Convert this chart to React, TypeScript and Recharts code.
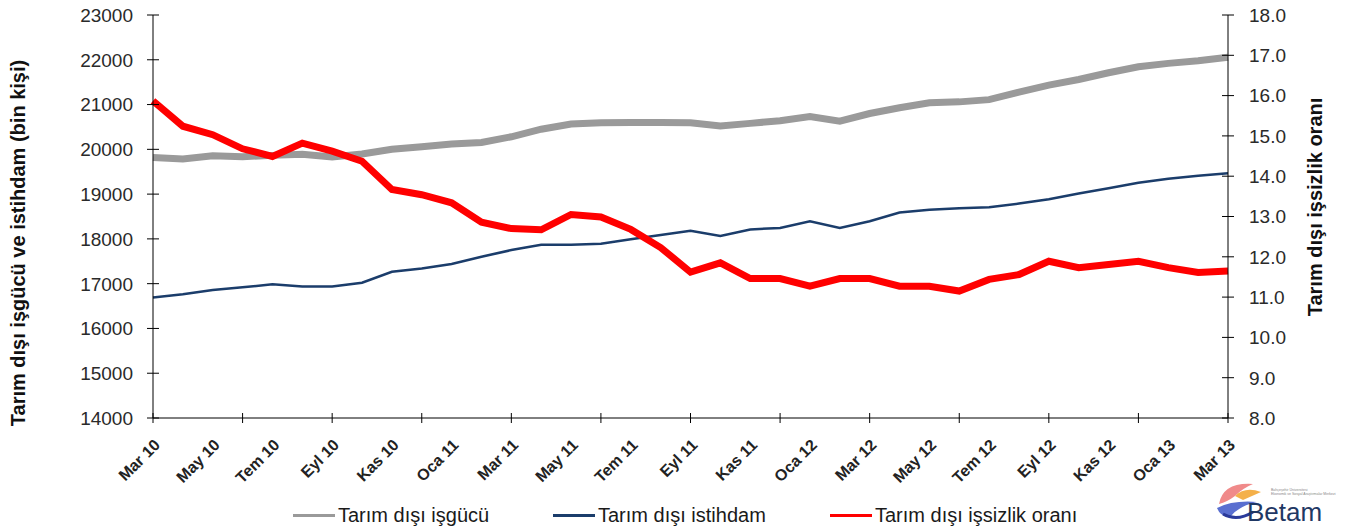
import { LineChart, Line, XAxis, YAxis } from "recharts";

const months = [
  "Mar 10", "Nis 10", "May 10", "Haz 10", "Tem 10", "Ağu 10", "Eyl 10", "Eki 10", "Kas 10", "Ara 10",
  "Oca 11", "Şub 11", "Mar 11", "Nis 11", "May 11", "Haz 11", "Tem 11", "Ağu 11", "Eyl 11", "Eki 11",
  "Kas 11", "Ara 11", "Oca 12", "Şub 12", "Mar 12", "Nis 12", "May 12", "Haz 12", "Tem 12", "Ağu 12",
  "Eyl 12", "Eki 12", "Kas 12", "Ara 12", "Oca 13", "Şub 13", "Mar 13",
];

// bin kişi
const isgucu = [
  19820, 19785, 19855, 19835, 19865, 19890, 19830, 19895, 20000, 20060,
  20120, 20155, 20280, 20450, 20565, 20595, 20600, 20600, 20595, 20520,
  20580, 20640, 20730, 20630, 20800, 20930, 21040, 21060, 21110, 21280,
  21435, 21560, 21710, 21845, 21920, 21980, 22055,
];

const istihdam = [
  16690, 16765, 16860, 16920, 16985, 16935, 16935, 17020, 17265, 17340,
  17440, 17600, 17750, 17870, 17870, 17890, 17990, 18085, 18180, 18065,
  18210, 18245, 18395, 18245, 18395, 18590, 18650, 18685, 18705, 18790,
  18885, 19015, 19130, 19255, 19345, 19410, 19465,
];

// %
const issizlik = [
  15.87, 15.24, 15.03, 14.68, 14.49, 14.82, 14.62, 14.37, 13.67, 13.54,
  13.34, 12.86, 12.7, 12.67, 13.05, 12.99, 12.68, 12.23, 11.62, 11.85,
  11.46, 11.46, 11.27, 11.46, 11.46, 11.27, 11.27, 11.15, 11.44, 11.56,
  11.89, 11.73, 11.81, 11.89, 11.73, 11.61, 11.65,
];

const leftTicks = [14000, 15000, 16000, 17000, 18000, 19000, 20000, 21000, 22000, 23000];
const rightTicks = [8, 9, 10, 11, 12, 13, 14, 15, 16, 17, 18];

const data = months.map((m, i) => ({
  m,
  isgucu: isgucu[i],
  istihdam: istihdam[i],
  issizlik: issizlik[i],
}));

const GRAY = "#9a9a9a";
const NAVY = "#1b3d6b";
const RED = "#ff0000";
const FONT = "'Liberation Sans', Arial, sans-serif";

// labels every 2 months, tick marks every 3 months
const MonthTick = (props: any) => {
  const { x, y, payload } = props;
  const i = months.indexOf(payload.value);
  const axisY = y - 8;
  return (
    <g>
      {i % 3 === 0 && (
        <line x1={x} x2={x} y1={axisY - 5} y2={axisY + 5} stroke="#000" />
      )}
      {i % 2 === 0 && (
        <text
          x={x + 8}
          y={y + 20}
          transform={`rotate(-45, ${x + 8}, ${y + 20})`}
          textAnchor="end"
          fontFamily={FONT}
          fontWeight="bold"
          fontSize={16}
          fill="#222"
        >
          {payload.value}
        </text>
      )}
    </g>
  );
};

const LeftTick = (props: any) => {
  const { x, y, payload } = props;
  const ax = x + 20;
  return (
    <g>
      <line x1={ax - 6} x2={ax + 6} y1={y} y2={y} stroke="#000" />
      <text x={x} y={y} dy="0.36em" textAnchor="end" fontFamily={FONT} fontSize={19} fill="#2a2a2a">
        {payload.value}
      </text>
    </g>
  );
};

const RightTick = (props: any) => {
  const { x, y, payload } = props;
  const ax = x - 21;
  return (
    <g>
      <line x1={ax - 6} x2={ax + 6} y1={y} y2={y} stroke="#000" />
      <text x={x} y={y} dy="0.36em" textAnchor="start" fontFamily={FONT} fontSize={19} fill="#2a2a2a">
        {Number(payload.value).toFixed(1)}
      </text>
    </g>
  );
};

const legendItems = [
  { name: "Tarım dışı işgücü", color: GRAY, left: 293 },
  { name: "Tarım dışı istihdam", color: NAVY, left: 553 },
  { name: "Tarım dışı işsizlik oranı", color: RED, left: 830 },
];

const titleStyle: React.CSSProperties = {
  position: "absolute",
  transform: "translate(-50%, -50%) rotate(-90deg)",
  whiteSpace: "nowrap",
  fontFamily: FONT,
  fontWeight: "bold",
  fontSize: 20,
  color: "#111",
};

function Logo() {
  return (
    <svg
      width={151}
      height={56}
      style={{ position: "absolute", left: 1213, top: 472 }}
    >
      <path d="M6 32 Q10 10 40 12 Q30 16 22 24 Q14 30 6 32 Z" fill="#f08a8a" />
      <path d="M22 24 Q32 14 48 20 L30 28 Z" fill="#f4b04a" />
      <path d="M4 36 Q20 28 44 30 Q26 34 18 44 Q8 46 4 36 Z" fill="#5a6fd0" />
      <path d="M10 42 Q24 50 40 40" stroke="#2a3a9a" strokeWidth={3} fill="none" />
      <text x={58} y={19} fontFamily={FONT} fontSize={3.5} fill="#888">
        Bahçeşehir Üniversitesi
      </text>
      <text x={58} y={23} fontFamily={FONT} fontSize={3.5} fill="#888">
        Ekonomik ve Sosyal Araştırmalar Merkezi
      </text>
      <text x={34} y={49} fontFamily={FONT} fontSize={26} fill="#1f3864">
        Betam
      </text>
    </svg>
  );
}

export default function App() {
  return (
    <div
      style={{
        position: "absolute",
        left: 0,
        top: 0,
        width: 1364,
        height: 530,
        background: "#fff",
        overflow: "hidden",
      }}
    >
      <LineChart
        width={1364}
        height={530}
        data={data}
        margin={{ top: 15, right: 0, bottom: 42, left: 0 }}
      >
        <XAxis
          dataKey="m"
          interval={0}
          height={70}
          tickSize={6}
          tickLine={false}
          axisLine={{ stroke: "#000" }}
          tick={<MonthTick />}
        />
        <YAxis
          yAxisId="left"
          width={153}
          domain={[14000, 23000]}
          ticks={leftTicks}
          tickSize={7}
          tickMargin={13}
          tickLine={false}
          axisLine={{ stroke: "#000" }}
          tick={<LeftTick />}
        />
        <YAxis
          yAxisId="right"
          orientation="right"
          width={136}
          domain={[8, 18]}
          ticks={rightTicks}
          tickSize={7}
          tickMargin={14}
          tickLine={false}
          axisLine={{ stroke: "#000" }}
          tick={<RightTick />}
        />
        <Line
          yAxisId="left"
          dataKey="isgucu"
          name="Tarım dışı işgücü"
          stroke={GRAY}
          strokeWidth={7}
          dot={false}
          type="linear"
          isAnimationActive={false}
        />
        <Line
          yAxisId="left"
          dataKey="istihdam"
          name="Tarım dışı istihdam"
          stroke={NAVY}
          strokeWidth={2.5}
          dot={false}
          type="linear"
          isAnimationActive={false}
        />
        <Line
          yAxisId="right"
          dataKey="issizlik"
          name="Tarım dışı işsizlik oranı"
          stroke={RED}
          strokeWidth={7}
          dot={false}
          type="linear"
          isAnimationActive={false}
        />
      </LineChart>

      <div style={{ ...titleStyle, left: 18, top: 243 }}>
        Tarım dışı işgücü ve istihdam (bin kişi)
      </div>
      <div style={{ ...titleStyle, left: 1315, top: 207 }}>
        Tarım dışı işsizlik oranı
      </div>

      {legendItems.map((it) => (
        <div
          key={it.name}
          style={{
            position: "absolute",
            left: it.left,
            top: 503,
            height: 24,
            display: "flex",
            alignItems: "center",
            fontFamily: FONT,
            fontSize: 20,
            color: "#1a1a1a",
            whiteSpace: "nowrap",
          }}
        >
          <span
            style={{
              display: "inline-block",
              width: 42,
              height: 3,
              background: it.color,
              marginRight: 3,
            }}
          />
          {it.name}
        </div>
      ))}

      <Logo />
    </div>
  );
}
